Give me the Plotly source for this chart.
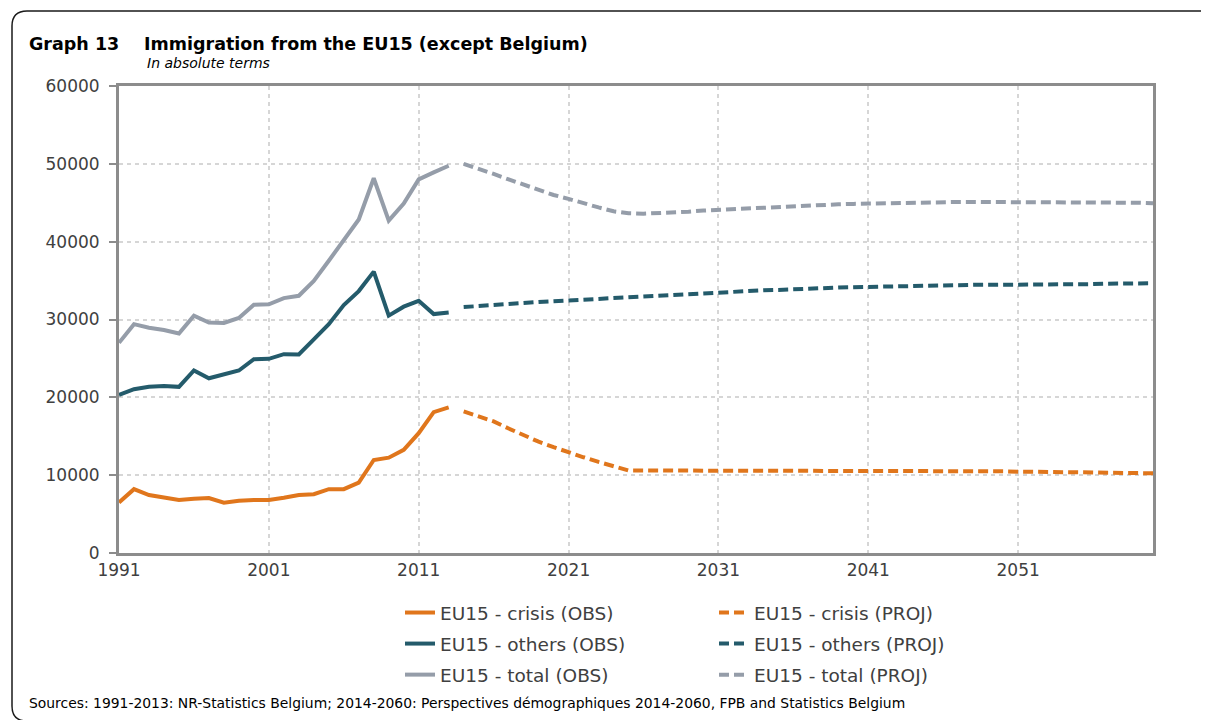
import plotly.graph_objects as go

years_obs = list(range(1991, 2014))
years_proj = list(range(2014, 2061))

crisis_obs = [6500, 8200, 7450, 7150, 6800, 6980, 7070, 6470, 6700, 6800, 6800, 7100,
              7450, 7550, 8200, 8200, 9050, 11950, 12250, 13250, 15400, 18100, 18700]
others_obs = [20300, 21050, 21350, 21450, 21350, 23450, 22450, 22950, 23450, 24900, 24950, 25550,
              25500, 27450, 29400, 31850, 33650, 36150, 30500, 31650, 32400, 30700, 30900]
total_obs = [27000, 29400, 28950, 28650, 28200, 30500, 29600, 29550, 30200, 31900, 31950, 32750,
             33050, 34950, 37550, 40200, 42850, 48150, 42700, 44900, 48000, 48900, 49750]

crisis_proj = [18200, 17600, 16900, 16000, 15100, 14300, 13600, 12900, 12300, 11700, 11100, 10600,
               10600, 10600, 10600, 10600, 10600, 10600, 10600, 10600, 10600, 10600, 10600, 10600,
               10600, 10600, 10600, 10600, 10600, 10600, 10600, 10600, 10600, 10550, 10550, 10500,
               10500, 10450, 10450, 10400, 10400, 10350, 10350, 10300, 10300, 10250, 10250]
others_proj = [31600, 31750, 31900, 32000, 32100, 32250, 32350, 32450, 32600, 32700, 32850, 32950,
               33050, 33150, 33250, 33350, 33450, 33500, 33600, 33650, 33750, 33800, 33900, 33950,
               34000, 34100, 34150, 34200, 34250, 34300, 34350, 34350, 34400, 34400, 34450, 34450,
               34450, 34450, 34500, 34500, 34500, 34550, 34550, 34600, 34600, 34650, 34650]
total_proj = [50000, 49400, 48700, 48000, 47300, 46600, 46000, 45500, 44900, 44400, 43900, 43650,
              43600, 43650, 43750, 43850, 44000, 44100, 44200, 44300, 44400, 44500, 44550, 44650,
              44700, 44800, 44850, 44900, 44950, 45000, 45000, 45050, 45050, 45100, 45100, 45100,
              45100, 45050, 45050, 45050, 45050, 45050, 45000, 45000, 45000, 45000, 44950]

x_ticks = [1991, 2001, 2011, 2021, 2031, 2041, 2051]

ORANGE = "#E0761C"
TEAL = "#245B6B"
GREY = "#959DA9"
FONT = "DejaVu Sans"

# page body adds an 8px margin; positions below are screen pixels of the reference
OFF = 8
W, H = 1209 - OFF, 720 - OFF
# plot area on screen: left 119, right 1153, top 86, bottom 553
L, R, T, B = 119, 1153, 86, 553


def px(x):
    return (x - L) / (R - L)


def py(y):
    return (B - y) / (B - T)


fig = go.Figure()

series = [
    ("EU15 - crisis (OBS)", years_obs, crisis_obs, ORANGE, "solid", "legend"),
    ("EU15 - others (OBS)", years_obs, others_obs, TEAL, "solid", "legend"),
    ("EU15 - total (OBS)", years_obs, total_obs, GREY, "solid", "legend"),
    ("EU15 - crisis (PROJ)", years_proj, crisis_proj, ORANGE, "10px,5px", "legend2"),
    ("EU15 - others (PROJ)", years_proj, others_proj, TEAL, "10px,5px", "legend2"),
    ("EU15 - total (PROJ)", years_proj, total_proj, GREY, "10px,5px", "legend2"),
]
for i, (name, xs, ys, col, dash, leg) in enumerate(series):
    fig.add_trace(go.Scatter(
        x=xs, y=ys, name=name, mode="lines",
        line=dict(color=col, width=4, dash=dash),
        legend=leg, legendgroup=str(i),
    ))

legend_common = dict(
    orientation="v", xanchor="left", yanchor="top",
    font=dict(family=FONT, size=18.5, color="#404040"),
    bgcolor="rgba(0,0,0,0)", tracegroupgap=4,
)
fig.update_layout(
    legend=dict(x=px(400), y=py(594), **legend_common),
    legend2=dict(x=px(714), y=py(594), **legend_common),
)

fig.update_xaxes(
    range=[1991, 2060], tickvals=x_ticks,
    showgrid=True, gridcolor="#D6D6D6", gridwidth=1.5, griddash="4px,4px",
    showline=True, linecolor="#8C8C8C", linewidth=3, mirror=True,
    ticks="", tickfont=dict(family=FONT, size=17, color="#404040"),
    zeroline=False,
)
fig.update_yaxes(
    range=[0, 60000], tickvals=[0, 10000, 20000, 30000, 40000, 50000, 60000],
    tickformat="d",
    showgrid=True, gridcolor="#D6D6D6", gridwidth=1.5, griddash="4px,4px",
    showline=True, linecolor="#8C8C8C", linewidth=3, mirror=True,
    ticks="outside", ticklen=7, tickwidth=2, tickcolor="#8C8C8C",
    ticklabelstandoff=6,
    tickfont=dict(family=FONT, size=17, color="#404040"),
    zeroline=False,
)

# rounded frame around the whole figure
x0, y0, x1, y1, r = 12, 11, 1240, 721, 15
frame = (f"M {px(x1)} {py(y0)} L {px(x0 + r)} {py(y0)} "
         f"Q {px(x0)} {py(y0)} {px(x0)} {py(y0 + r)} "
         f"L {px(x0)} {py(y1 - r)} Q {px(x0)} {py(y1)} {px(x0 + r)} {py(y1)}")
fig.add_shape(type="path", path=frame, xref="paper", yref="paper",
              line=dict(color="#1A1A1A", width=1.5))

fig.add_annotation(x=px(27), y=py(44), xref="paper", yref="paper", showarrow=False,
                   xanchor="left", yanchor="middle", text="<b>Graph 13</b>",
                   font=dict(family=FONT, size=17.5, color="black"))
fig.add_annotation(x=px(142), y=py(44), xref="paper", yref="paper", showarrow=False,
                   xanchor="left", yanchor="middle",
                   text="<b>Immigration from the EU15 (except Belgium)</b>",
                   font=dict(family=FONT, size=17.5, color="black"))
fig.add_annotation(x=px(145), y=py(63), xref="paper", yref="paper", showarrow=False,
                   xanchor="left", yanchor="middle", text="<i>In absolute terms</i>",
                   font=dict(family=FONT, size=14, color="black"))
fig.add_annotation(x=px(27), y=py(703), xref="paper", yref="paper", showarrow=False,
                   xanchor="left", yanchor="middle",
                   text="Sources: 1991-2013: NR-Statistics Belgium; 2014-2060: Perspectives démographiques 2014-2060, FPB and Statistics Belgium",
                   font=dict(family=FONT, size=13.9, color="black"))

fig.update_layout(
    width=W, height=H,
    margin=dict(l=L - OFF, r=W - (R - OFF), t=T - OFF, b=H - (B - OFF)),
    plot_bgcolor="white", paper_bgcolor="white",
    font=dict(family=FONT),
)

fig.write_html("out.html")
